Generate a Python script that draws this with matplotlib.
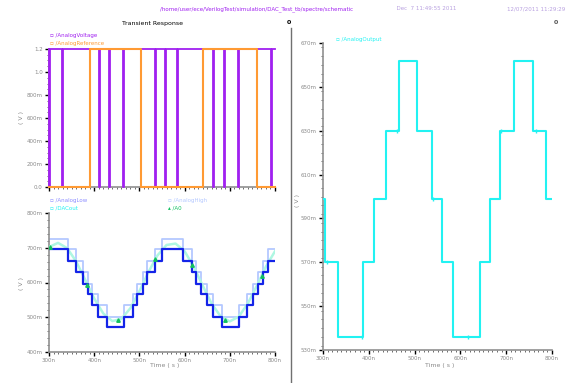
import matplotlib
matplotlib.use("Agg")
import matplotlib.pyplot as plt
from matplotlib.ticker import MultipleLocator

# ---------------- data ----------------
x_ticks_ns = [300, 400, 500, 600, 700, 800]
x_tick_labels = ["300n", "400n", "500n", "600n", "700n", "800n"]

# top-left digital signals
purple_dips_ns = [301, 329, 411, 433, 464, 535, 557, 583, 663, 687, 718, 791]
orange_t = [300, 391, 504, 641, 760, 800]
orange_v = [0.0, 1.2, 0.0, 1.2, 0.0, 0.0]
top_yticks = [0.0, 0.2, 0.4, 0.6, 0.8, 1.0, 1.2]
top_ylabels = ["0.0", "200m", "400m", "600m", "800m", "1.0", "1.2"]

# bottom-left analog signals (mV)
blue_t = [300, 342, 360, 375, 386, 395, 408, 428, 466, 486, 495, 508, 517, 534, 549,
          597, 616, 625, 636, 649, 663, 682, 721, 737, 752, 763, 774, 785, 800]
blue_mv = [696, 662, 630, 596, 567, 535, 501, 472, 501, 535, 567, 596, 630, 662, 696,
           662, 630, 596, 567, 535, 501, 472, 501, 535, 567, 596, 630, 662, 662]
pale_mv = [726, 696, 662, 630, 596, 567, 535, 501, 535, 567, 596, 630, 662, 696, 726,
           696, 662, 630, 596, 567, 535, 501, 535, 567, 596, 630, 662, 696, 696]
sine_t = [300, 320, 340, 360, 380, 400, 420, 440, 460, 480, 500, 520, 540, 560, 580,
          600, 620, 640, 660, 680, 700, 720, 740, 760, 780, 800]
sine_mv = [702, 714, 699, 661, 608, 554, 511, 489, 495, 526, 575, 630, 678, 708, 712,
           690, 646, 591, 539, 502, 488, 502, 540, 591, 646, 690]
green_t = [303, 384, 453, 535, 616, 689, 771]
green_mv = [703, 592, 492, 668, 650, 493, 618]
bot_yticks = [400, 500, 600, 700, 800]
bot_ylabels = ["400m", "500m", "600m", "700m", "800m"]

# right analog output (mV)
out_t = [300, 304, 333, 387, 411, 438, 466, 505, 538, 560, 584, 643, 665, 686, 717,
         758, 787, 800]
out_mv = [599, 570, 536, 570, 599, 630, 662, 630, 599, 570, 536, 570, 599, 630, 662,
          630, 599, 599]
out_mark_t = [308, 385, 462, 540, 616, 689, 766]
out_mark_mv = [570, 536, 630, 599, 536, 630, 630]
right_yticks = [530, 550, 570, 590, 610, 630, 650, 670]
right_ylabels = ["530m", "550m", "570m", "590m", "610m", "630m", "650m", "670m"]

# ---------------- styling ----------------
W, H = 569, 383
fig = plt.figure(figsize=(W / 100, H / 100), dpi=100)
fig.patch.set_facecolor("white")

PURPLE = "#a020f0"
ORANGE = "#ff9a33"
BLUE = "#1424e8"
PALE = "#b4c8ff"
MINT = "#aef7e2"
GREEN = "#10c060"
CYAN = "#22f2f2"
GRAY = "#909090"


def axes_px(x0, y0, x1, y1):
    return fig.add_axes([x0 / W, 1 - y1 / H, (x1 - x0) / W, (y1 - y0) / H])


def style(ax, yticks, ylabels, yminor):
    for s in ["top", "right"]:
        ax.spines[s].set_visible(False)
    for s in ["left", "bottom"]:
        ax.spines[s].set_color(GRAY)
        ax.spines[s].set_linewidth(1.2)
    ax.set_xlim(300, 800)
    ax.set_xticks(x_ticks_ns)
    ax.set_xticklabels(x_tick_labels)
    ax.xaxis.set_minor_locator(MultipleLocator(10))
    ax.set_yticks(yticks)
    ax.set_yticklabels(ylabels)
    ax.yaxis.set_minor_locator(MultipleLocator(yminor))
    ax.tick_params(which="major", length=3, width=1, color="black",
                   labelsize=4, labelcolor="#8a8a8a", pad=1.5)
    ax.tick_params(which="minor", length=1.5, width=0.6, color="#555555")
    ax.set_facecolor("none")


# top-left
ax1 = axes_px(49, 49, 275, 187)
style(ax1, top_yticks, top_ylabels, 0.05)
ax1.set_ylim(0, 1.2)
ax1.set_xticklabels([])
px, py = [300], [1.2]
for t in purple_dips_ns:
    px += [t, t, t + 1.5, t + 1.5]
    py += [1.2, 0.0, 0.0, 1.2]
px.append(800)
py.append(1.2)
ax1.plot(px, py, color=PURPLE, lw=1.3, clip_on=False, zorder=3)
ax1.plot(orange_t, orange_v, drawstyle="steps-post", color=ORANGE, lw=1.5,
         clip_on=False, zorder=4)

# bottom-left
ax2 = axes_px(49, 213, 275, 352)
style(ax2, bot_yticks, bot_ylabels, 20)
ax2.set_ylim(400, 800)
ax2.plot(blue_t, pale_mv, drawstyle="steps-post", color=PALE, lw=1.3, zorder=2)
ax2.plot(sine_t, sine_mv, color=MINT, lw=1.8, zorder=3)
ax2.plot(blue_t, blue_mv, drawstyle="steps-post", color=BLUE, lw=1.6, zorder=4)
ax2.plot(green_t, green_mv, linestyle="none", marker="^", ms=2.5, color=GREEN, zorder=5)

# right
ax3 = axes_px(323, 43, 552, 350)
style(ax3, right_yticks, right_ylabels, 4)
ax3.set_ylim(530, 670)
ax3.plot(out_t, out_mv, drawstyle="steps-post", color=CYAN, lw=1.5, zorder=3)
ax3.plot(out_mark_t, out_mark_mv, linestyle="none", marker="|", ms=3, color=CYAN,
         mew=1, zorder=4)

# axis labels
fig.text(22 / W, 1 - 118 / H, "( V )", rotation=90, fontsize=4.5, color="#8a8a8a",
         ha="center", va="center")
fig.text(22 / W, 1 - 283 / H, "( V )", rotation=90, fontsize=4.5, color="#8a8a8a",
         ha="center", va="center")
fig.text(297 / W, 1 - 200 / H, "( V )", rotation=90, fontsize=4.5, color="#8a8a8a",
         ha="center", va="center")
fig.text(165 / W, 1 - 365 / H, "Time ( s )", fontsize=4.5, color="#8a8a8a",
         ha="center", va="center")
fig.text(440 / W, 1 - 365 / H, "Time ( s )", fontsize=4.5, color="#8a8a8a",
         ha="center", va="center")

# legends
fig.text(50 / W, 1 - 36 / H, "\u25ab /AnalogVoltage", fontsize=4, color=PURPLE, va="center")
fig.text(50 / W, 1 - 43 / H, "\u25ab /AnalogReference", fontsize=4, color=ORANGE, va="center")
fig.text(50 / W, 1 - 201 / H, "\u25ab /AnalogLow", fontsize=4, color="#8c8cff", va="center")
fig.text(50 / W, 1 - 208 / H, "\u25ab /DACout", fontsize=4, color=CYAN, va="center")
fig.text(168 / W, 1 - 201 / H, "\u25ab /AnalogHigh", fontsize=4, color=PALE, va="center")
fig.text(168 / W, 1 - 208 / H, "\u25b4 /A0", fontsize=4, color=GREEN, va="center")
fig.text(336 / W, 1 - 40 / H, "\u25ab /AnalogOutput", fontsize=4, color=CYAN, va="center")

# header
fig.text(160 / W, 1 - 9 / H, "/home/user/ece/VerilogTest/simulation/DAC_Test_tb/spectre/schematic",
         fontsize=4, color=PURPLE, va="center")
fig.text(393 / W, 1 - 9 / H, "  Dec  7 11:49:55 2011", fontsize=4, color="#b8a0e0", va="center")
fig.text(565 / W, 1 - 9 / H, "12/07/2011 11:29:29", fontsize=4, color="#b8a0e0",
         va="center", ha="right")
fig.text(153 / W, 1 - 23 / H, "Transient Response", fontsize=4.5, color="black",
         ha="center", va="center")
fig.text(289 / W, 1 - 23 / H, "0", fontsize=4.5, color="black", ha="center",
         va="center", fontweight="bold")
fig.text(556 / W, 1 - 23 / H, "0", fontsize=4.5, color="#555555", ha="center",
         va="center", fontweight="bold")

# divider
fig.add_artist(plt.Line2D([291 / W, 291 / W], [0, 1 - 28 / H], color="#707070", lw=1))

fig.savefig("out.png", dpi=100)
